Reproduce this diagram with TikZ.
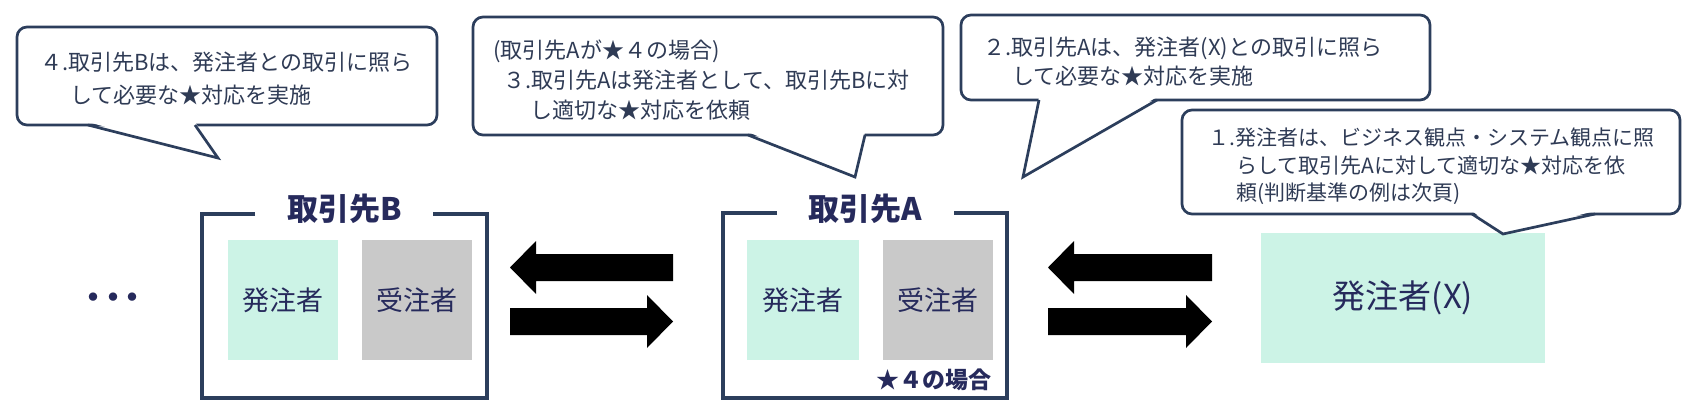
\documentclass[tikz,border=0pt]{standalone}
\usepackage{fontspec}
\setmainfont{Noto Sans CJK JP}
\usetikzlibrary{calc}
\definecolor{lineblue}{HTML}{2C3E5C}
\definecolor{txtnavy}{HTML}{262A5C}
\definecolor{calltxt}{HTML}{2F3B55}
\definecolor{mint}{HTML}{CCF3E6}
\definecolor{boxgray}{HTML}{C9C9C9}
\tikzset{
	framebox/.style={draw=lineblue, line width=1.8pt},
	calloutline/.style={draw=lineblue, line width=1.35pt, line join=miter},
	calltext/.style={anchor=west, align=left, inner sep=0pt, text=calltxt},
	titletext/.style={inner sep=0pt, text=txtnavy, font=\bfseries\fontsize{15.5}{18}\selectfont},
	orderbox/.style={minimum width=55pt, minimum height=60pt, inner sep=0pt, text=txtnavy, font=\fontsize{13.5}{16}\selectfont},
	arrowfill/.style={fill=black}
}
\def\blockarrow(#1)(#2){%
	\coordinate (ahead) at ($(#2)!13pt!(#1)$);
	\fill[arrowfill] ($(#1)!6.75pt!90:(#2)$) -- ($(ahead)!6.75pt!90:(#2)$) -- ($(ahead)!13.25pt!90:(#2)$) -- (#2)
		-- ($(ahead)!13.25pt!-90:(#2)$) -- ($(ahead)!6.75pt!-90:(#2)$) -- ($(#1)!6.75pt!-90:(#2)$) -- cycle;}
\def\callout(#1)(#2)(#3)(#4)(#5){%
	\draw[calloutline, fill=white, rounded corners=5pt] (#1) rectangle (#2);
	\fill[white] ($(#3)+(0,-3)$) -- (#4) -- ($(#5)+(0,-3)$) -- cycle;
	\draw[calloutline] (#3) -- (#4) -- (#5);}

\begin{document}
\begin{tikzpicture}[x=0.5pt, y=-0.5pt]
		%%%%% START %%%%%
		
		\fill[white] (0,0) rectangle (1693,417);
		
		% frames
		\draw[framebox] (255,214) -- (202,214) -- (202,398) -- (487,398) -- (487,214) -- (433,214);
		\draw[framebox] (777,213) -- (723,213) -- (723,398) -- (1007,398) -- (1007,213) -- (954,213);
		\node[titletext] (tB) at (344.5,209) {取引先B};
		\node[titletext] (tA) at (865,209) {取引先A};
		
		\node[orderbox, fill=mint] (hB) at (283,300) {発注者};
		\node[orderbox, fill=boxgray] (jB) at (417,300) {受注者};
		\node[orderbox, fill=mint, minimum width=56pt] (hA) at (803,300) {発注者};
		\node[orderbox, fill=boxgray] (jA) at (938,300) {受注者};
		\node[anchor=east, inner sep=0pt, text=txtnavy, font=\bfseries\fontsize{11.5}{14}\selectfont] (case4) at (992,380) {★４の場合};
		
		\node[orderbox, fill=mint, minimum width=142pt, minimum height=65pt, font=\fontsize{16.5}{19}\selectfont] (hX) at (1403,298) {発注者(X)};
		
		\node[inner sep=0pt, text=txtnavy, font=\bfseries\fontsize{15}{17}\selectfont] (dots) at (113,301) {・\kern-0.36em・\kern-0.36em・};
		
		% arrows
		\coordinate (BAtopR) at (673,267.5);
		\coordinate (BAtopL) at (510,267.5);
		\coordinate (BAbotL) at (510,321.5);
		\coordinate (BAbotR) at (673,321.5);
		\coordinate (AXtopR) at (1212,267.5);
		\coordinate (AXtopL) at (1048,267.5);
		\coordinate (AXbotL) at (1048,321.5);
		\coordinate (AXbotR) at (1212,321.5);
		\blockarrow(BAtopR)(BAtopL)
		\blockarrow(BAbotL)(BAbotR)
		\blockarrow(AXtopR)(AXtopL)
		\blockarrow(AXbotL)(AXbotR)
		
		% callouts
		\callout(17,27)(437,125)(88,125)(218,158)(195,125)
		\node[calltext, font=\fontsize{11}{16.5}\selectfont] (c4) at (40,78.5)
			{４.取引先Bは、発注者との取引に照ら\\\hspace*{15pt}して必要な★対応を実施};
		
		\callout(473,17)(943,135)(748,135)(855,177)(865,135)
		\node[calltext, font=\fontsize{11}{15}\selectfont] (c3) at (493,80)
			{(取引先Aが★４の場合)\\\hspace*{5pt}３.取引先Aは発注者として、取引先Bに対\\\hspace*{18.5pt}し適切な★対応を依頼};
		
		\callout(961,15)(1430,100)(1039,100)(1023,177)(1157,100)
		\node[calltext, font=\fontsize{11}{14.5}\selectfont] (c2) at (983,61.5)
			{２.取引先Aは、発注者(X)との取引に照ら\\\hspace*{14.5pt}して必要な★対応を実施};
		
		\callout(1182,110)(1680,214)(1472,214)(1503,234)(1595,214)
		\node[calltext, font=\fontsize{10.5}{13.75}\selectfont] (c1) at (1208,166.5)
			{１.発注者は、ビジネス観点・システム観点に照\\\hspace*{14pt}らして取引先Aに対して適切な★対応を依\\\hspace*{14pt}頼(判断基準の例は次頁)};
		
		%%%%% END %%%%%
	\end{tikzpicture}
\end{document}
